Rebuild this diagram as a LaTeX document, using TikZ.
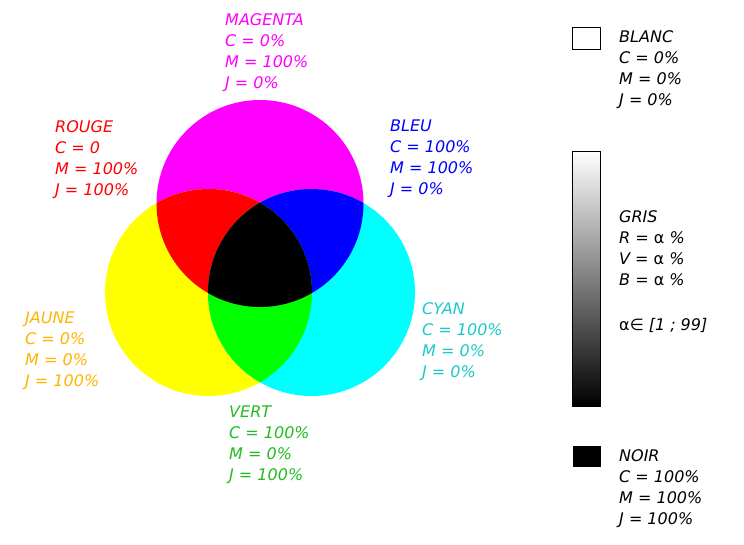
\documentclass[tikz,border=0pt]{standalone}
\usepackage{fontspec}
\setmainfont{DejaVu Sans}
\usetikzlibrary{positioning}
\definecolor{jaunetxt}{HTML}{FFB400}
\definecolor{cyantxt}{HTML}{1EC8C8}
\definecolor{verttxt}{HTML}{22BB22}
\definecolor{magentapur}{RGB}{255,0,255}
\definecolor{jaunepur}{RGB}{255,255,0}
\definecolor{cyanpur}{RGB}{0,255,255}
\definecolor{rougepur}{RGB}{255,0,0}
\definecolor{bleupur}{RGB}{0,0,255}
\definecolor{vertpur}{RGB}{0,255,0}

\begin{document}
\begin{tikzpicture}[
  x=1pt, y=-1pt,
  legend/.style={anchor=north west, inner sep=0pt, align=left, font=\fontsize{16}{21}\selectfont\itshape},
  swatch/.style={draw=black, line width=0.8pt, anchor=north west, inner sep=0pt, minimum width=28pt, minimum height=22pt}
]
\useasboundingbox (0,0) rectangle (744,544);

% centres des trois cercles
\coordinate (cm) at (260,203.5);
\coordinate (cj) at (208.5,292.5);
\coordinate (cc) at (311.5,292.5);
\def\rayon{103.5pt}

% couleurs primaires
\fill[magentapur] (cm) circle[radius=\rayon];
\fill[jaunepur] (cj) circle[radius=\rayon];
\fill[cyanpur] (cc) circle[radius=\rayon];

% melanges deux a deux
\begin{scope}
  \clip (cm) circle[radius=\rayon];
  \fill[rougepur] (cj) circle[radius=\rayon];
  \fill[bleupur] (cc) circle[radius=\rayon];
\end{scope}
\begin{scope}
  \clip (cj) circle[radius=\rayon];
  \fill[vertpur] (cc) circle[radius=\rayon];
\end{scope}

% melange des trois
\begin{scope}
  \clip (cm) circle[radius=\rayon];
  \clip (cj) circle[radius=\rayon];
  \fill[black] (cc) circle[radius=\rayon];
\end{scope}

% etiquettes
\node[legend, text=magentapur] (magenta) at (225,13) {MAGENTA\\C = 0\%\\M = 100\%\\J = 0\%};
\node[legend, text=rougepur] (rouge) at (55,120) {ROUGE\\C = 0\\M = 100\%\\J = 100\%};
\node[legend, text=bleupur] (bleu) at (390,120) {BLEU\\C = 100\%\\M = 100\%\\J = 0\%};
\node[legend, text=jaunetxt] (jaune) at (25,312) {JAUNE\\C = 0\%\\M = 0\%\\J = 100\%};
\node[legend, text=cyantxt] (cyan) at (422,302) {CYAN\\C = 100\%\\M = 0\%\\J = 0\%};
\node[legend, text=verttxt] (vert) at (229,406) {VERT\\C = 100\%\\M = 0\%\\J = 100\%};

% legende de droite
\node[swatch, fill=white] (blancbox) at (572,27) {};
\node[legend] (blanc) at (619,30) {BLANC\\C = 0\%\\M = 0\%\\J = 0\%};

\node[swatch, minimum height=255pt, top color=white, bottom color=black] (grisbar) at (572,151) {};
\node[legend] (gris) at (619,210) {GRIS\\R = {\upshape α} \%\\V = {\upshape α} \%\\B = {\upshape α} \%};
\node[legend] (alpha) at (619,318) {{\upshape α}∈ [1 ; 99]};

\node[swatch, fill=black, minimum width=27pt, minimum height=20pt] (noirbox) at (573,446) {};
\node[legend] (noir) at (619,449) {NOIR\\C = 100\%\\M = 100\%\\J = 100\%};

\end{tikzpicture}
\end{document}
